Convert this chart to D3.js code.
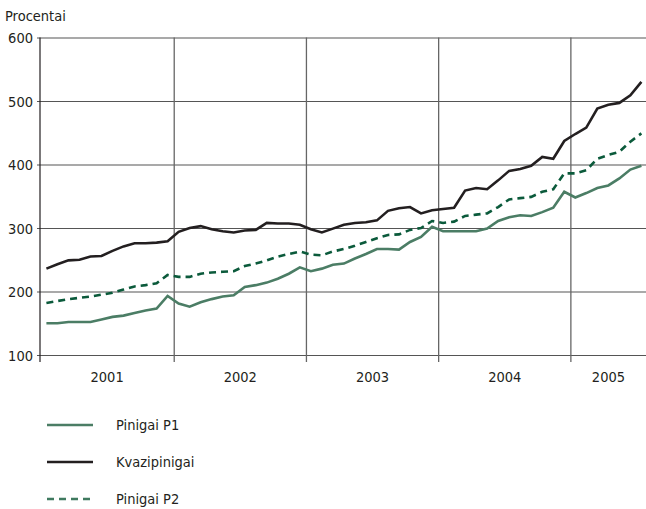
<!DOCTYPE html>
<html>
<head>
<meta charset="utf-8">
<script src="https://cdn.jsdelivr.net/npm/d3@7"></script>
<style>
  body { margin: 0; background: #fff; }
  svg { display: block; }
  text { font-family: "Liberation Sans Narrow", "DejaVu Sans Condensed", "Liberation Sans", sans-serif; fill: #231f20; }
</style>
</head>
<body>
<div id="chart"></div>
<script>
// monthly values, Jan 2001 .. Jul 2005
var years = ["2001", "2002", "2003", "2004", "2005"];
var yTicks = [100, 200, 300, 400, 500, 600];

var pinigaiP1 = [
  150, 150, 152, 152, 152, 156, 160, 162, 166, 170, 173, 193,
  181, 176, 183, 188, 192, 194, 207, 210, 214, 220, 228, 238,
  232, 236, 242, 244, 252, 259, 267, 267, 266, 278, 286, 302,
  295, 295, 295, 295, 299, 311, 317, 320, 319, 325, 332, 357,
  348, 355, 363, 367, 378, 392, 398
];
var kvazipinigai = [
  236, 243, 249, 250, 255, 256, 264, 271, 276, 276, 277, 279,
  294, 300, 303, 298, 295, 293, 296, 297, 308, 307, 307, 305,
  298, 293, 299, 305, 308, 309, 312, 327, 331, 333, 323, 328,
  330, 332, 359, 363, 361, 375, 390, 393, 398, 412, 409, 437,
  448, 458, 488, 494, 497, 509, 530
];
var pinigaiP2 = [
  182, 185, 188, 190, 192, 195, 198, 203, 208, 210, 213, 226,
  223, 223, 228, 230, 231, 232, 240, 244, 249, 255, 259, 263,
  258, 257, 263, 267, 272, 278, 284, 289, 290, 297, 300, 311,
  308, 310, 319, 321, 323, 333, 345, 347, 349, 357, 361, 386,
  386, 391, 409, 415, 420, 436, 449
];

var seriesList = [
  { name: "Pinigai P1", values: pinigaiP1, color: "#4b7d65", key: "#4b7d65", dash: null },
  { name: "Kvazipinigai", values: kvazipinigai, color: "#231f20", key: "#231f20", dash: null },
  { name: "Pinigai P2", values: pinigaiP2, color: "#0b5a3b", key: "#3f7a5f", dash: "7,5" }
];

var width = 646, height = 509;
var margin = { left: 40, right: 646, top: 37.5, bottom: 355 };

var svg = d3.select("#chart").append("svg")
  .attr("width", width)
  .attr("height", height);

var nMonths = pinigaiP1.length;
// months scale: year boundaries sit on the separators
var x = d3.scaleLinear().domain([0, nMonths]).range([42, 648]);
var y = d3.scaleLinear().domain([100, 600]).range([margin.bottom, margin.top]);

// horizontal grid + y labels
var yAxis = d3.axisLeft(y).tickValues(yTicks).tickSizeOuter(0);
var gy = svg.append("g")
  .attr("transform", "translate(" + margin.left + ",0)")
  .call(yAxis);
gy.select(".domain").remove();
gy.selectAll("line")
  .attr("x1", -3)
  .attr("x2", margin.right - margin.left)
  .attr("stroke", "#555")
  .attr("stroke-width", 1.2);
gy.selectAll("text")
  .style("font-size", "14.5px")
  .attr("x", -7)
  .attr("dy", "0.36em");

// year separators
var yearStarts = d3.range(12, nMonths, 12);
svg.append("g")
  .selectAll("line")
  .data(yearStarts)
  .enter()
  .append("line")
  .attr("x1", function (d) { return x(d); })
  .attr("x2", function (d) { return x(d); })
  .attr("y1", margin.top)
  .attr("y2", margin.bottom + 7)
  .attr("stroke", "#666")
  .attr("stroke-width", 1.3);

// left axis line
svg.append("line")
  .attr("x1", margin.left).attr("x2", margin.left)
  .attr("y1", margin.top).attr("y2", margin.bottom + 7)
  .attr("stroke", "#231f20")
  .attr("stroke-width", 1.2);

// year labels
svg.append("g")
  .selectAll("text")
  .data(years)
  .enter()
  .append("text")
  .attr("x", function (d, i) {
    var a = i === 0 ? margin.left : x(i * 12);
    var b = Math.min(x(i * 12 + 12), margin.right);
    return (a + b) / 2;
  })
  .attr("y", 382)
  .attr("text-anchor", "middle")
  .style("font-size", "14.5px")
  .text(function (d) { return d; });

svg.append("text")
  .attr("x", 5)
  .attr("y", 21)
  .style("font-size", "14.5px")
  .text("Procentai");

// lines
var line = d3.line()
  .x(function (d, i) { return x(i + 0.4); })
  .y(function (d) { return y(d); });

svg.append("g")
  .selectAll("path")
  .data(seriesList)
  .enter()
  .append("path")
  .attr("d", function (d) { return line(d.values); })
  .attr("fill", "none")
  .attr("stroke", function (d) { return d.color; })
  .attr("stroke-width", 2.6)
  .attr("stroke-dasharray", function (d) { return d.dash; });

// legend
var legend = svg.append("g")
  .selectAll("g")
  .data(seriesList)
  .enter()
  .append("g")
  .attr("transform", function (d, i) { return "translate(0," + (425 + i * 37) + ")"; });

legend.append("line")
  .attr("x1", 47).attr("x2", 93)
  .attr("y1", 0).attr("y2", 0)
  .attr("stroke", function (d) { return d.key; })
  .attr("stroke-width", 2.6)
  .attr("stroke-dasharray", function (d) { return d.dash; });

legend.append("text")
  .attr("x", 116)
  .attr("y", 5)
  .style("font-size", "14.5px")
  .text(function (d) { return d.name; });
</script>
</body>
</html>
